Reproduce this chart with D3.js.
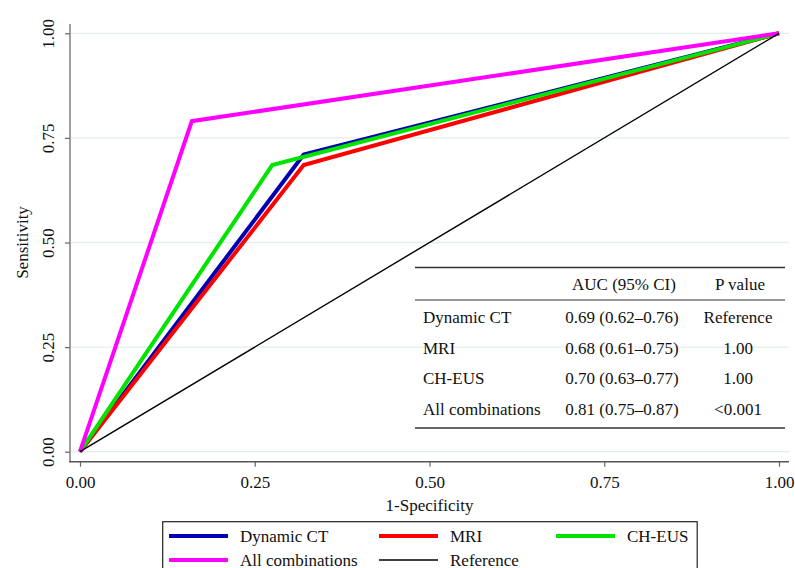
<!DOCTYPE html>
<html>
<head>
<meta charset="utf-8">
<script src="https://cdn.jsdelivr.net/npm/d3@7"></script>
<style>
  html, body { margin: 0; padding: 0; background: #fff; }
  svg { display: block; }
  text { font-family: "Liberation Serif", "DejaVu Serif", "Times New Roman", serif; fill: #111; }
</style>
</head>
<body>
<svg id="chart" width="795" height="568"></svg>
<script>
// ---- data ----
const seriesNames = ["Dynamic CT", "MRI", "CH-EUS", "All combinations", "Reference"];
const ctFPR   = [0, 0.32, 1];    const ctSens   = [0, 0.71, 1];
const mriFPR  = [0, 0.32, 1];    const mriSens  = [0, 0.685, 1];
const eusFPR  = [0, 0.275, 1];   const eusSens  = [0, 0.685, 1];
const allFPR  = [0, 0.16, 1];    const allSens  = [0, 0.79, 1];
const refFPR  = [0, 1];          const refSens  = [0, 1];
const tickValues = [0, 0.25, 0.5, 0.75, 1];
const tickLabels = ["0.00", "0.25", "0.50", "0.75", "1.00"];
const tableHeader = ["", "AUC (95% CI)", "P value"];
const tableLabels = ["Dynamic CT", "MRI", "CH-EUS", "All combinations"];
const tableAUC = ["0.69 (0.62\u20130.76)", "0.68 (0.61\u20130.75)", "0.70 (0.63\u20130.77)", "0.81 (0.75\u20130.87)"];
const tableP = ["Reference", "1.00", "1.00", "<0.001"];

const colors = ["#0000b0", "#ff0000", "#00e400", "#ff00ff", "#000000"];
const widths = [4, 4, 4, 4, 1.4];

const FONT = '"Liberation Serif", "DejaVu Serif", serif';
const svg = d3.select("#chart");
const FS = 17;

const x = d3.scaleLinear().domain([0, 1]).range([80, 779]);
const y = d3.scaleLinear().domain([0, 1]).range([451.7, 33.3]);

// gridlines
svg.append("g").selectAll("line").data(tickValues).join("line")
  .attr("x1", 71).attr("x2", 789)
  .attr("y1", d => y(d)).attr("y2", d => y(d))
  .attr("stroke", "#e4eef0").attr("stroke-width", 1.3);

// axes
const xAxis = d3.axisBottom(x).tickValues(tickValues)
  .tickFormat((d, i) => tickLabels[i]).tickSize(5).tickPadding(9);
const gx = svg.append("g").attr("transform", "translate(0,461.7)").call(xAxis);
gx.attr("font-family", FONT);
gx.select(".domain").remove();
gx.selectAll(".tick line").attr("stroke", "#666").attr("stroke-width", 1.2);
gx.selectAll(".tick text").attr("font-size", FS).style("font-family", FONT).attr("fill", "#111");

const yAxis = d3.axisLeft(y).tickValues(tickValues)
  .tickFormat((d, i) => tickLabels[i]).tickSize(5);
const gy = svg.append("g").attr("transform", "translate(70,0)").call(yAxis);
gy.attr("font-family", FONT);
gy.select(".domain").remove();
gy.selectAll(".tick line").attr("stroke", "#666").attr("stroke-width", 1.2);
gy.selectAll(".tick text")
  .attr("font-size", FS).style("font-family", FONT).attr("fill", "#111")
  .attr("x", 0).attr("dy", 0)
  .attr("text-anchor", "middle")
  .attr("transform", "translate(-16,0) rotate(-90)");

// axis lines
svg.append("line").attr("x1", 70).attr("x2", 70).attr("y1", 24).attr("y2", 462.4)
  .attr("stroke", "#777").attr("stroke-width", 1.4);
svg.append("line").attr("x1", 69.3).attr("x2", 789).attr("y1", 461.7).attr("y2", 461.7)
  .attr("stroke", "#555").attr("stroke-width", 1.4);

// axis titles
svg.append("text").attr("x", 429.5).attr("y", 511).attr("text-anchor", "middle")
  .style("font-family", FONT).attr("font-size", FS).text("1-Specificity");
svg.append("text").attr("transform", "translate(28,242.5) rotate(-90)")
  .style("font-family", FONT).attr("text-anchor", "middle").attr("font-size", FS).text("Sensitivity");

// ROC lines
const seriesData = [
  ctFPR.map((v, i) => [v, ctSens[i]]),
  mriFPR.map((v, i) => [v, mriSens[i]]),
  eusFPR.map((v, i) => [v, eusSens[i]]),
  allFPR.map((v, i) => [v, allSens[i]]),
  refFPR.map((v, i) => [v, refSens[i]])
];
const line = d3.line().x(d => x(d[0])).y(d => y(d[1]));
svg.append("g").selectAll("path").data(seriesData).join("path")
  .attr("d", line).attr("fill", "none")
  .attr("stroke", (d, i) => colors[i])
  .attr("stroke-width", (d, i) => widths[i])
  .attr("stroke-linejoin", "miter");

// table
const tbl = svg.append("g").style("font-family", FONT);
const tX1 = 415, tX2 = 785;
[267.5, 300, 428].forEach((ly, i) => {
  tbl.append("line").attr("x1", tX1).attr("x2", tX2).attr("y1", ly).attr("y2", ly)
    .attr("stroke", "#333").attr("stroke-width", i === 1 ? 1.1 : 1.3);
});
tbl.append("text").attr("x", 624).attr("y", 290).attr("text-anchor", "middle")
  .attr("font-size", FS).text(tableHeader[1]);
tbl.append("text").attr("x", 740).attr("y", 290).attr("text-anchor", "middle")
  .attr("font-size", FS).text(tableHeader[2]);
const rowY = [323, 353.5, 384, 414.5];
tableLabels.forEach((lab, i) => {
  tbl.append("text").attr("x", 423).attr("y", rowY[i]).attr("font-size", FS).text(lab);
  tbl.append("text").attr("x", 622).attr("y", rowY[i]).attr("text-anchor", "middle")
    .attr("font-size", FS).text(tableAUC[i]);
  tbl.append("text").attr("x", 738).attr("y", rowY[i]).attr("text-anchor", "middle")
    .attr("font-size", FS).text(tableP[i]);
});

// legend
const lg = svg.append("g").style("font-family", FONT);
lg.append("rect").attr("x", 162.7).attr("y", 521.7).attr("width", 534.5).attr("height", 60)
  .attr("fill", "#fff").attr("stroke", "#222").attr("stroke-width", 1.2);
const legCols = [169, 379, 556];
const legRows = [536, 560];
seriesNames.forEach((name, i) => {
  const cx = legCols[i % 3], cy = legRows[Math.floor(i / 3)];
  lg.append("line").attr("x1", cx).attr("x2", cx + 59).attr("y1", cy).attr("y2", cy)
    .attr("stroke", colors[i]).attr("stroke-width", widths[i]);
  lg.append("text").attr("x", cx + 71).attr("y", cy + 5.5).attr("font-size", FS).text(name);
});
</script>
</body>
</html>
